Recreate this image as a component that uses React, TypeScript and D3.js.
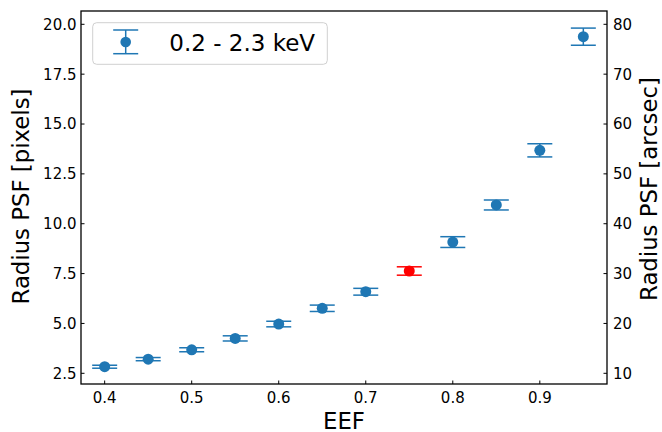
import React from "react";
import * as d3 from "d3";

const eef = [0.4, 0.45, 0.5, 0.55, 0.6, 0.65, 0.7, 0.75, 0.8, 0.85, 0.9, 0.95];
const radiusPix = [2.83, 3.21, 3.68, 4.25, 4.97, 5.76, 6.59, 7.63, 9.08, 10.94, 13.68, 19.38];
const radiusErr = [0.075, 0.08, 0.1, 0.13, 0.14, 0.16, 0.17, 0.21, 0.27, 0.25, 0.33, 0.43];
const highlightEEF = 0.75;
const xTicks = [0.4, 0.5, 0.6, 0.7, 0.8, 0.9];
const yLeftTicks = [2.5, 5.0, 7.5, 10.0, 12.5, 15.0, 17.5, 20.0];
const yRightTicks = [10, 20, 30, 40, 50, 60, 70, 80];
const arcsecPerPixel = 4;
const legendLabel = "0.2 - 2.3 keV";

const W = 662, H = 432;
const L = 81, R = 607, T = 11, B = 384;
const FONT = "DejaVu Sans, sans-serif";
const BLUE = "#1f77b4";
const RED = "#ff0000";

export default function App() {
  const x = d3.scaleLinear().domain([0.3728, 0.9772]).range([L, R]);
  const y = d3.scaleLinear().domain([1.9635, 20.667]).range([B, T]);
  const y2 = d3.scaleLinear().domain([1.9635 * arcsecPerPixel, 20.667 * arcsecPerPixel]).range([B, T]);
  const cap = 12.5;
  const tick = 3.5;

  return (
    <svg width={W} height={H} style={{ position: "absolute", left: 0, top: 0, background: "#fff" }} fontFamily={FONT}>
      {/* data */}
      {eef.map((e, i) => {
        const c = Math.abs(e - highlightEEF) < 1e-9 ? RED : BLUE;
        const cx = x(e);
        const y0 = y(radiusPix[i] - radiusErr[i]);
        const y1 = y(radiusPix[i] + radiusErr[i]);
        return (
          <g key={i} stroke={c} strokeWidth={1.5}>
            <line x1={cx} x2={cx} y1={y0} y2={y1} />
            <line x1={cx - cap} x2={cx + cap} y1={y0} y2={y0} />
            <line x1={cx - cap} x2={cx + cap} y1={y1} y2={y1} />
            <circle cx={cx} cy={y(radiusPix[i])} r={5.5} fill={c} stroke="none" />
          </g>
        );
      })}
      {/* x ticks */}
      {xTicks.map((t) => (
        <g key={"x" + t}>
          <line x1={x(t)} x2={x(t)} y1={B} y2={B - tick} stroke="#000" strokeWidth={1} />
          <text x={x(t)} y={402.5} fontSize={15} textAnchor="middle" fill="#000">{t.toFixed(1)}</text>
        </g>
      ))}
      {/* left ticks */}
      {yLeftTicks.map((t) => (
        <g key={"yl" + t}>
          <line x1={L} x2={L + tick} y1={y(t)} y2={y(t)} stroke="#000" strokeWidth={1} />
          <text x={76.5} y={y(t)} dy="0.36em" fontSize={15} textAnchor="end" fill="#000">{t.toFixed(1)}</text>
        </g>
      ))}
      {/* right ticks */}
      {yRightTicks.map((t) => (
        <g key={"yr" + t}>
          <line x1={R} x2={R - tick} y1={y2(t)} y2={y2(t)} stroke="#000" strokeWidth={1} />
          <text x={613} y={y2(t)} dy="0.36em" fontSize={15} textAnchor="start" fill="#000">{t}</text>
        </g>
      ))}
      {/* frame */}
      <rect x={L} y={T} width={R - L} height={B - T} fill="none" stroke="#000" strokeWidth={1.3} />
      {/* axis labels */}
      <text x={(L + R) / 2} y={428.5} fontSize={22.8} textAnchor="middle" fill="#000">EEF</text>
      <text transform={`translate(28.5,${196.5}) rotate(-90)`} fontSize={22.8} textAnchor="middle" fill="#000">Radius PSF [pixels]</text>
      <text transform={`translate(657,${189}) rotate(-90)`} fontSize={22.8} textAnchor="middle" fill="#000">Radius PSF [arcsec]</text>
      {/* legend */}
      <rect x={92.7} y={22.7} width={234.6} height={41.6} rx={4} fill="#fff" fillOpacity={0.8} stroke="#d0d0d0" strokeWidth={1} />
      <g stroke={BLUE} strokeWidth={1.5}>
        <line x1={125.7} x2={125.7} y1={30} y2={53.7} />
        <line x1={113.2} x2={138.2} y1={30} y2={30} />
        <line x1={113.2} x2={138.2} y1={53.7} y2={53.7} />
        <circle cx={125.7} cy={42} r={5.3} fill={BLUE} stroke="none" />
      </g>
      <text x={169.3} y={50.7} fontSize={23} fill="#000">{legendLabel}</text>
    </svg>
  );
}
